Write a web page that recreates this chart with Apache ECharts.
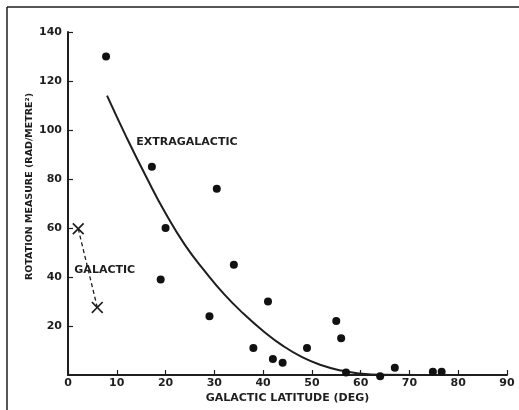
<!DOCTYPE html>
<html>
<head>
<meta charset="utf-8">
<script src="https://cdn.jsdelivr.net/npm/echarts@6/dist/echarts.min.js"></script>
<style>
  html, body { margin: 0; padding: 0; background: #fff; }
  #chart { width: 519px; height: 410px; }
</style>
</head>
<body>
<div id="chart"></div>
<script>
// measured points, [latitude, rotation measure]
var extraPoints = [
  [7.8, 130], [17.2, 85], [30.5, 76], [20, 60], [19, 39], [34, 45],
  [29, 24], [38, 11], [41, 30], [42, 6.5], [44, 5], [49, 11],
  [55, 22], [56, 15], [57, 1], [64, -0.5], [67, 3], [74.8, 1.3], [76.6, 1.3]
];
// fitted extragalactic curve
var extraCurve = [
  [8, 114], [12, 97], [16, 81], [20, 66], [24, 53], [28, 42.5], [32, 33],
  [36, 25], [40, 18], [44, 12], [48, 7.3], [52, 4], [56, 1.8],
  [60, 0.6], [64, 0.1], [72, 0]
];
// galactic estimate (dashed)
var galactic = [[2.1, 59.7], [6, 27.6]];
var labels = [
  { text: 'EXTRAGALACTIC', pos: [14, 95] },
  { text: 'GALACTIC', pos: [1.3, 42.7] }
];
var xTicks = [0, 10, 20, 30, 40, 50, 60, 70, 80, 90];
var yTicks = [0, 20, 40, 60, 80, 100, 120, 140];

var ink = '#1e1e1e';
var font = 'DejaVu Sans';

var myChart = echarts.init(document.getElementById('chart'));

var crossPath = 'path://M0,1L1,0L5,4L9,0L10,1L6,5L10,9L9,10L5,6L1,10L0,9L4,5Z';

option = {
  backgroundColor: '#fff',
  animation: false,
  grid: { left: 68, right: 12, top: 32, bottom: 35 },
  xAxis: {
    type: 'value',
    min: xTicks[0], max: xTicks[xTicks.length - 1], interval: 10,
    name: 'GALACTIC LATITUDE (DEG)',
    nameLocation: 'middle',
    nameGap: 18,
    nameMoveOverlap: false,
    nameTextStyle: { fontFamily: font, fontSize: 11, fontWeight: 'bold', color: ink },
    axisLine: { lineStyle: { color: ink, width: 2 } },
    axisTick: { inside: true, length: 5, lineStyle: { color: ink, width: 1.2 } },
    axisLabel: { fontFamily: font, fontSize: 11, fontWeight: 'bold', color: ink, margin: 3 },
    splitLine: { show: false }
  },
  yAxis: {
    type: 'value',
    min: yTicks[0], max: yTicks[yTicks.length - 1], interval: 20,
    name: 'ROTATION MEASURE (RAD/METRE²)',
    nameLocation: 'middle',
    nameGap: 33,
    nameMoveOverlap: false,
    nameTextStyle: { fontFamily: font, fontSize: 9.5, fontWeight: 'bold', color: ink, padding: [0, 0, 0, 34] },
    axisLine: { lineStyle: { color: ink, width: 2 } },
    axisTick: { inside: true, length: 5, lineStyle: { color: ink, width: 1.2 } },
    axisLabel: { fontFamily: font, fontSize: 11, fontWeight: 'bold', color: ink, margin: 6, showMinLabel: false },
    splitLine: { show: false }
  },
  graphic: [
    { type: 'line', shape: { x1: 7, y1: 7, x2: 519, y2: 7 }, style: { stroke: ink, lineWidth: 1.5 } },
    { type: 'line', shape: { x1: 7, y1: 7, x2: 7, y2: 410 }, style: { stroke: ink, lineWidth: 1.5 } }
  ],
  series: [
    {
      name: 'curve',
      type: 'line',
      smooth: true,
      showSymbol: false,
      data: extraCurve,
      lineStyle: { color: ink, width: 2 },
      z: 2
    },
    {
      name: 'points',
      type: 'scatter',
      clip: false,
      symbolSize: 8,
      data: extraPoints,
      itemStyle: { color: '#111', opacity: 1 },
      z: 3
    },
    {
      name: 'galactic',
      type: 'line',
      data: galactic,
      symbol: crossPath,
      symbolSize: 12,
      showAllSymbol: true,
      itemStyle: { color: ink },
      lineStyle: { color: ink, width: 1.3, type: [4, 3] },
      z: 3
    },
    {
      name: 'labels',
      type: 'scatter',
      symbolSize: 0,
      itemStyle: { opacity: 1 },
      data: labels.map(function (l) { return { value: l.pos, name: l.text }; }),
      label: {
        show: true,
        position: 'right',
        distance: 0,
        formatter: '{b}',
        fontFamily: font,
        fontSize: 11,
        fontWeight: 'bold',
        color: ink
      },
      z: 4
    }
  ]
};

myChart.setOption(option);
</script>
</body>
</html>
